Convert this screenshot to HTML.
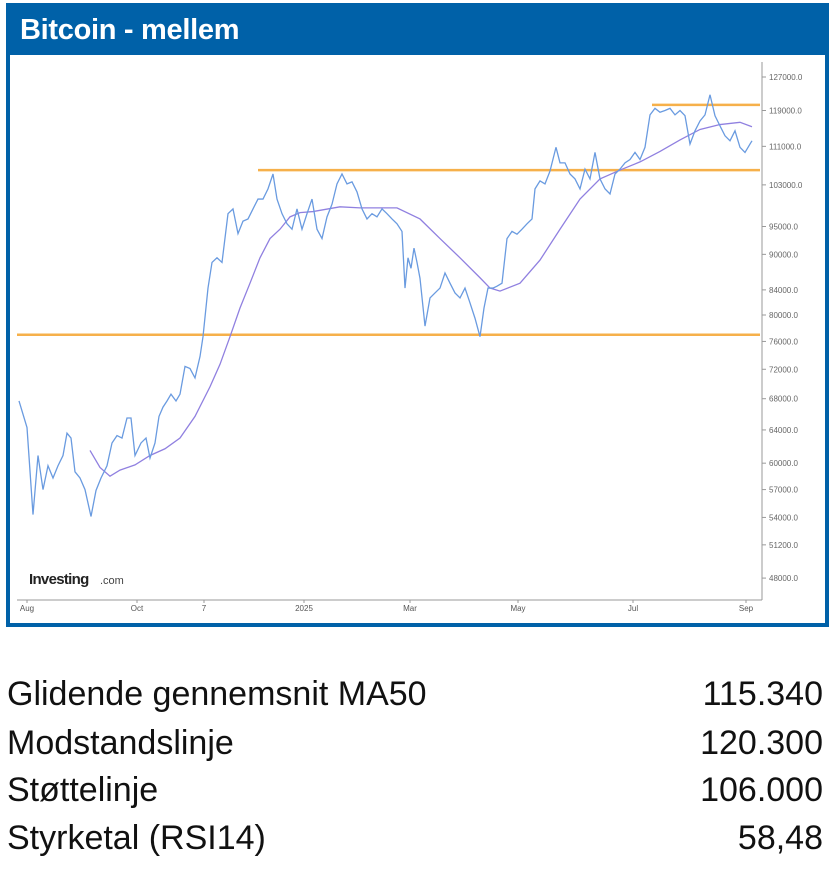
<!DOCTYPE html>
<html><head><meta charset="utf-8"><style>
body{margin:0;width:833px;height:875px;background:#fff;font-family:"Liberation Sans",sans-serif;position:relative;overflow:hidden}
#box{position:absolute;left:6px;top:3px;width:815px;height:620px;border:4px solid #0061a8;border-top:none;background:#fff}
#hdr{position:absolute;left:6px;top:3px;width:823px;height:52px;background:#0061a8;color:#fff;font-weight:bold;font-size:29px;line-height:54px;box-sizing:border-box;padding-left:14px;letter-spacing:-0.3px}
.row{position:absolute;left:7px;width:816px;font-size:34px;color:#111;height:44px;line-height:44px}
.row span{position:absolute;right:0}
svg{position:absolute;left:0;top:0}
</style></head><body>
<div id="box"></div>
<div id="hdr">Bitcoin - mellem</div>
<svg id="chart" width="833" height="630"></svg>
<div class="row" style="top:672px">Glidende gennemsnit MA50<span>115.340</span></div>
<div class="row" style="top:721px">Modstandslinje<span>120.300</span></div>
<div class="row" style="top:768px">Støttelinje<span>106.000</span></div>
<div class="row" style="top:816px">Styrketal (RSI14)<span>58,48</span></div>
<script>
const priceT=[0,8,14,19,24,29,34,39,44,48,52,56,61,66,72,77,82,88,93,98,103,108,112,116,122,127,131,136,140,144,148,152,157,161,166,171,176,181,184,189,193,198,203,209,214,219,224,229,234,239,244,249,254,258,263,268,273,278,283,288,293,298,303,308,313,318,323,328,333,338,343,348,353,358,363,368,373,378,383,386,389,392,395,398,401,406,411,416,421,426,431,436,441,446,451,456,461,465,469,474,478,483,488,493,498,503,508,513,516,521,526,531,537,541,546,551,556,561,566,571,576,581,586,591,596,601,606,611,616,621,626,631,636,641,646,651,656,661,666,671,676,681,686,691,696,701,706,711,716,721,726,731,733];
const priceV=[67.7,64.3,54.3,60.9,57.0,59.7,58.3,59.7,60.9,63.6,63.0,59.0,58.3,57.0,54.1,56.9,58.3,59.7,62.4,63.3,63.0,65.5,65.5,60.9,62.4,63.0,60.6,62.4,65.7,66.9,67.7,68.6,67.7,68.6,72.4,72.1,70.8,73.8,76.7,84.3,88.6,89.4,88.6,97.4,98.3,93.7,96.0,96.4,98.3,100.2,100.2,102.2,105.2,100.2,97.4,95.5,94.5,98.3,94.5,97.4,100.2,94.5,92.8,96.8,99.2,103.2,105.2,103.2,103.6,101.6,98.3,96.4,97.4,96.8,98.3,97.4,96.4,95.5,94.1,84.3,89.4,87.6,91.1,88.6,85.9,78.3,82.7,83.5,84.3,86.8,85.1,83.5,82.7,84.3,81.9,79.5,76.7,81.1,84.3,84.3,84.6,85.1,92.8,94.1,93.6,94.5,95.5,96.4,102.2,103.8,103.2,105.8,110.8,107.5,107.5,105.2,104.2,102.2,106.2,104.2,109.7,104.2,102.2,101.2,105.2,106.2,107.5,108.2,109.7,108.2,110.8,118.0,119.5,118.6,119.0,119.5,118.0,119.0,117.8,111.5,114.4,116.6,118.0,122.7,117.8,115.5,113.3,112.2,114.4,110.8,109.7,111.5,112.2];
const maT=[71,81,91,101,116,131,146,161,176,191,201,211,221,231,241,251,261,271,281,294,321,341,378,401,421,441,461,471,481,501,521,541,561,581,601,621,641,661,681,701,721,733];
const maV=[61.5,59.5,58.5,59.2,59.8,60.9,61.7,63.0,65.7,69.6,72.7,76.7,81.1,85.1,89.4,92.8,94.5,96.8,97.6,97.8,98.7,98.5,98.5,96.4,92.8,89.4,86.0,84.3,83.8,85.1,89.0,94.5,100.2,104.2,106.0,107.7,109.9,112.4,114.7,115.8,116.3,115.3];
const yTicks=[127000,119000,111000,103000,95000,90000,84000,80000,76000,72000,68000,64000,60000,57000,54000,51200,48000];
const xTickLabels=["Aug","Oct","7","2025","Mar","May","Jul","Sep"];
const xTickT=[8,118,185,285,391,499,614,727];
const levels=[{v:77000,t0:-2},{v:106000,t0:239},{v:120300,t0:633}];
const NS="http://www.w3.org/2000/svg";
const svg=document.getElementById('chart');
const X=t=>19+t;
const Y=v=>77+515*Math.log(127000/v);
function el(tag,attrs){const e=document.createElementNS(NS,tag);for(const k in attrs)e.setAttribute(k,attrs[k]);svg.appendChild(e);return e;}
let a=el('line',{x1:762,y1:62,x2:762,y2:600,stroke:'#999','stroke-width':1});


a=el('line',{x1:17,y1:600,x2:762,y2:600,stroke:'#999','stroke-width':1});


yTicks.forEach(v=>{const y=Y(v);
 el('line',{x1:762,y1:y,x2:766,y2:y,stroke:'#999'});
 const t=el('text',{x:769,y:y+3,'font-size':8,fill:'#666','font-family':'Liberation Sans'});
 t.textContent=v.toFixed(1);
 
 
});
xTickLabels.forEach((l,i)=>{const x=X(xTickT[i]);
 el('line',{x1:x,y1:600,x2:x,y2:603,stroke:'#999'});
 const t=el('text',{x:x,y:611,'font-size':8,fill:'#555','text-anchor':'middle','font-family':'Liberation Sans'});
 t.textContent=l;
 
 
});
levels.forEach(l=>{
 const ln=el('line',{x1:X(l.t0),y1:Y(l.v),x2:760,y2:Y(l.v),stroke:'#f6b04a','stroke-width':2.5});
 
 
});
let p=el('polyline',{points:maT.map((t,i)=>X(t)+','+Y(maV[i]*1000)).join(' '),fill:'none',stroke:'#9080e0','stroke-width':1.3});


p=el('polyline',{points:priceT.map((t,i)=>X(t)+','+Y(priceV[i]*1000)).join(' '),fill:'none',stroke:'#6a9be0','stroke-width':1.3});


let lg=el('text',{x:29,y:584,'font-size':15,'font-weight':'bold',fill:'#222','font-family':'Liberation Sans','letter-spacing':'-0.7'});
lg.textContent='Investing';


lg=el('text',{x:100,y:584,'font-size':11,fill:'#444','font-family':'Liberation Sans'});
lg.textContent='.com';


</script>
</body></html>
